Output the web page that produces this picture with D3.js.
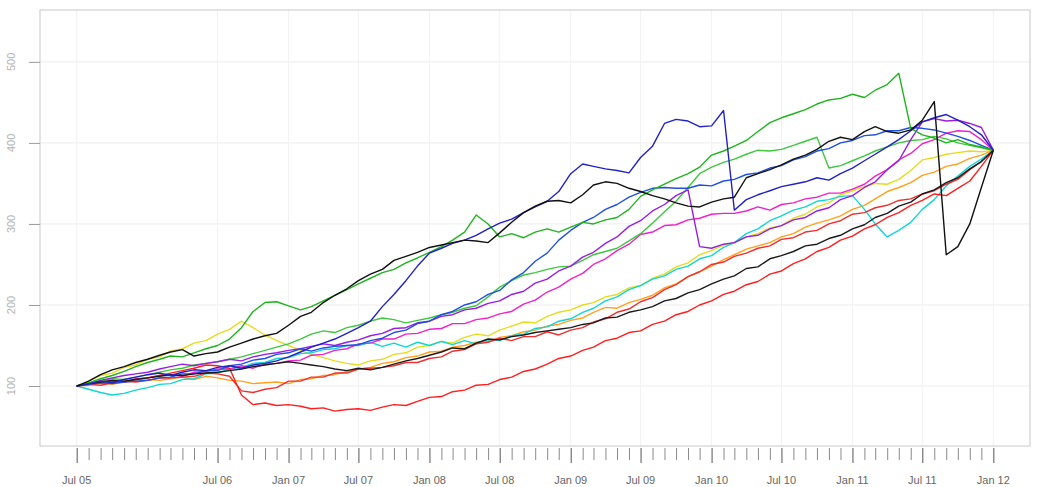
<!DOCTYPE html>
<html>
<head>
<meta charset="utf-8">
<script src="https://cdn.jsdelivr.net/npm/d3@7"></script>
<style>
  html, body { margin: 0; padding: 0; background: #fff; }
  svg { display: block; }
</style>
</head>
<body>
<svg id="chart" width="1046" height="487"></svg>
<script>
// Monthly index levels, Jul 2005 – Jan 2012 (79 observations, start = 100)
const firstMonth = "2005-07-01";
const lastMonth = "2012-01-01";
const yTickValues = [100, 200, 300, 400, 500];
const xLabelMonths = ["2005-07-01", "2006-07-01", "2007-01-01", "2007-07-01", "2008-01-01",
  "2008-07-01", "2009-01-01", "2009-07-01", "2010-01-01", "2010-07-01", "2011-01-01",
  "2011-07-01", "2012-01-01"];

const yellowSeries = [100,
  106,113,116,123,126,133, 136,143,146,153,156,164, 170,180,172,163,156,150,
  144,139,135,131,128,126, 131,133,139,141,148,150, 155,153,160,164,162,169,
  174,179,178,186,191,194, 200,203,210,213,221,224, 233,238,247,252,262,267,
  274,277,284,288,295,298, 307,312,321,326,336,341, 346,350,349,355,366,379,
  382,386,388,390,389,391];
const orangeSeries = [100,
  101,104,102,105,106,108, 107,109,111,108,112,110, 107,106,103,104,105,103,
  108,109,113,114,118,121, 123,128,130,135,137,142, 143,148,150,154,155,160,
  162,167,169,174,176,181, 184,191,197,196,203,207, 212,221,226,235,241,248,
  256,262,269,273,277,284, 288,296,301,305,310,318, 323,331,340,345,351,360,
  364,371,374,381,385,391];
const cyanSeries = [100,
  96,92,89,91,95,98, 102,103,108,109,115,116, 121,123,128,129,134,135,
  140,141,145,146,150,150, 154,149,153,148,154,150, 155,151,156,152,157,156,
  162,164,171,173,180,183, 191,196,205,210,219,224, 232,236,244,248,257,261,
  271,277,288,294,304,310, 317,321,328,330,334,335, 318,300,284,292,302,318,
  330,347,359,371,380,391];
const magentaSeries = [100,
  103,104,107,105,109,110, 113,114,112,117,118,121, 121,125,122,127,128,131,
  132,138,139,144,146,152, 153,158,158,164,165,170, 171,177,177,182,184,189,
  192,201,206,216,222,232, 239,250,257,267,275,287, 290,298,299,305,307,312,
  313,313,316,321,317,324, 326,331,333,338,338,343, 349,359,367,379,387,399,
  404,412,415,414,404,391];
const redSeriesB = [100,
  102,101,104,106,105,107, 110,110,111,112,116,115, 112,94,92,96,98,106,
  106,111,111,116,116,121, 122,123,125,129,129,134, 136,143,145,152,154,159,
  156,161,161,167,163,169, 172,179,183,191,195,204, 209,219,225,235,241,250,
  253,260,264,270,273,281, 283,290,292,300,304,312, 314,320,323,329,331,337,
  341,349,355,367,377,391];
const redSeriesA = [100,
  102,104,106,105,108,110, 113,116,119,122,126,125, 122,89,77,79,76,77,
  75,72,73,69,71,72, 70,74,77,76,81,86, 87,93,95,101,102,108,
  111,118,121,127,134,137, 144,148,156,159,166,168, 176,180,188,192,200,205,
  213,217,225,229,238,242, 251,257,266,271,280,285, 294,299,308,314,323,329,
  337,335,344,353,371,391];
const greenSeriesB = [100,
  103,106,109,108,111,114, 117,120,122,126,128,130, 133,136,140,144,148,152,
  158,164,168,166,172,175, 180,184,182,178,181,184, 188,191,196,199,210,222,
  230,237,240,244,247,248, 255,262,266,270,279,288, 301,315,328,345,362,370,
  376,380,386,391,390,392, 397,402,407,369,372,378, 384,390,395,400,403,404,
  408,405,400,397,394,391];
const purpleSeries = [100,
  103,107,110,113,115,117, 121,124,127,125,128,130, 133,131,136,139,141,144,
  146,149,152,150,154,157, 162,165,171,172,178,180, 186,188,194,196,202,205,
  213,217,227,232,242,248, 259,265,276,284,297,304, 316,324,335,342,272,270,
  275,277,284,286,294,298, 305,308,316,320,330,335, 345,352,367,378,404,426,
  430,427,428,424,419,391];
const blueSeriesB = [100,
  102,104,103,105,106,107, 110,111,115,115,119,119, 125,127,132,134,139,141,
  146,143,147,149,150,151, 156,159,166,169,177,180, 188,192,200,204,213,218,
  231,240,254,264,280,292, 302,308,318,324,333,339, 344,345,344,344,348,347,
  353,355,361,363,369,372, 379,383,390,393,400,403, 409,410,415,415,419,418,
  416,412,408,403,397,391];
const blackSeriesB = [100,
  103,105,107,106,108,110, 112,114,113,115,116,117, 119,121,124,126,128,130,
  128,126,124,121,119,122, 120,123,127,131,134,138, 142,147,146,153,158,157,
  161,163,166,168,170,172, 176,178,184,185,191,194, 198,205,208,215,219,226,
  232,236,245,247,257,261, 266,273,275,282,286,294, 299,308,313,322,327,337,
  342,351,357,368,377,391];
const greenSeriesA = [100,
  104,109,113,118,124,129, 133,137,136,141,146,150, 158,172,192,203,204,199,
  194,198,205,212,219,226, 233,240,244,252,258,265, 272,280,290,311,300,284,
  288,283,290,294,290,296, 302,300,305,308,318,334, 342,349,356,362,370,385,
  390,396,403,414,425,431, 436,441,448,453,455,460, 456,465,472,486,418,410,
  406,400,404,398,395,391];
const blueSeriesA = [100,
  103,106,104,108,111,114, 116,113,117,120,119,123, 125,122,126,128,131,136,
  142,148,153,158,165,172, 180,198,213,230,248,264, 270,276,280,286,294,301,
  306,314,321,328,340,362, 374,371,368,366,363,382, 396,424,429,427,420,421,
  440,317,330,336,341,346, 349,352,357,354,362,369, 378,386,395,404,415,426,
  431,435,428,420,410,391];
const blackSeriesA = [100,
  106,114,120,124,129,133, 138,142,145,137,140,142, 148,153,158,162,165,175,
  186,191,203,212,220,230, 238,244,255,260,265,271, 274,277,280,279,277,289,
  302,314,322,328,329,326, 336,348,352,350,344,340, 335,331,326,322,321,327,
  331,333,357,362,367,373, 380,385,392,402,407,404, 414,420,414,412,416,428,
  451,262,272,300,345,391];

// Drawing order (back to front) with line colours
const seriesList = [
  { values: yellowSeries,  color: "#e6dc1e" },
  { values: orangeSeries,  color: "#ffa01e" },
  { values: cyanSeries,    color: "#12d6d6" },
  { values: magentaSeries, color: "#ee22cc" },
  { values: redSeriesB,    color: "#ee3030" },
  { values: redSeriesA,    color: "#ff1e1e" },
  { values: greenSeriesB,  color: "#3ec83e" },
  { values: purpleSeries,  color: "#9a1ee0" },
  { values: blueSeriesB,   color: "#2050e0" },
  { values: blackSeriesB,  color: "#1a1a1a" },
  { values: greenSeriesA,  color: "#1fb41f" },
  { values: blueSeriesA,   color: "#2222c4" },
  { values: blackSeriesA,  color: "#111111" }
];

const box = { left: 40, right: 1030, top: 10, bottom: 446 };
const svg = d3.select("#chart");
const font = "Liberation Sans, Arial, sans-serif";

const parse = d3.utcParse("%Y-%m-%d");
const t0 = parse(firstMonth), t1 = parse(lastMonth);
const months = d3.utcMonth.range(t0, d3.utcMonth.offset(t1, 1));

// R-style 4% axis padding on x
const xPad = (box.right - box.left) * 0.04 / 1.08;
const x = d3.scaleUtc().domain([t0, t1]).range([box.left + xPad, box.right - xPad]);
const y = d3.scaleLinear().domain([26, 564]).range([box.bottom, box.top]);

// grid
svg.append("g").selectAll("line").data(yTickValues).join("line")
  .attr("x1", box.left).attr("x2", box.right)
  .attr("y1", d => y(d)).attr("y2", d => y(d))
  .attr("stroke", "#ececec").attr("stroke-width", 1);
svg.append("g").selectAll("line").data(xLabelMonths.map(parse)).join("line")
  .attr("x1", d => x(d)).attr("x2", d => x(d))
  .attr("y1", box.top).attr("y2", box.bottom)
  .attr("stroke", "#f2f2f2").attr("stroke-width", 1);

// frame
svg.append("rect")
  .attr("x", box.left).attr("y", box.top)
  .attr("width", box.right - box.left).attr("height", box.bottom - box.top)
  .attr("fill", "none").attr("stroke", "#c8c8c8").attr("stroke-width", 1);

// series
const line = d3.line()
  .x((d, i) => x(months[i]))
  .y(d => y(d));
svg.append("g").selectAll("path").data(seriesList).join("path")
  .attr("d", s => line(s.values))
  .attr("fill", "none")
  .attr("stroke", s => s.color)
  .attr("stroke-width", 1.4)
  .attr("stroke-linejoin", "round");

// y axis: ticks outside the frame, labels rotated parallel to the axis
const gy = svg.append("g").attr("transform", `translate(${box.left},0)`)
  .call(d3.axisLeft(y).tickValues(yTickValues).tickSize(11).tickFormat(""));
gy.select(".domain").remove();
gy.selectAll(".tick line").attr("stroke", "#9a9a9a");
svg.append("g").selectAll("text").data(yTickValues).join("text")
  .attr("transform", d => `translate(15,${y(d)}) rotate(-90)`)
  .attr("text-anchor", "middle")
  .attr("fill", "#b4b4b4").attr("font-size", 11).attr("font-family", font)
  .text(d => d);

// x axis: monthly minor ticks, half-year labels
const gx = svg.append("g").attr("transform", `translate(0,${box.bottom + 2})`);
gx.call(d3.axisBottom(x).tickValues(months).tickSize(12).tickFormat(""));
gx.select(".domain").remove();
gx.selectAll(".tick line").attr("stroke", "#8a8a8a");
const labelSet = new Set(xLabelMonths);
const fmtKey = d3.utcFormat("%Y-%m-%d");
gx.selectAll(".tick line").filter(d => labelSet.has(fmtKey(d)))
  .attr("stroke", "#555").attr("y2", 15);

svg.append("g").selectAll("text").data(xLabelMonths.map(parse)).join("text")
  .attr("x", d => x(d)).attr("y", 484)
  .attr("text-anchor", "middle")
  .attr("fill", "#666").attr("font-size", 11).attr("font-family", font)
  .text(d3.utcFormat("%b %y"));
</script>
</body>
</html>
